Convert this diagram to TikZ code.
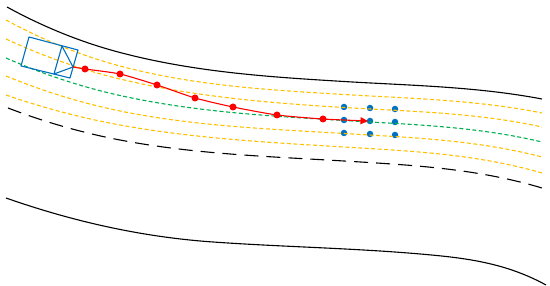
\documentclass[tikz,border=0pt]{standalone}
\usetikzlibrary{arrows.meta}

\definecolor{laneyellow}{RGB}{255,192,0}
\definecolor{lanegreen}{RGB}{0,176,80}
\definecolor{carblue}{RGB}{0,112,192}
\definecolor{trajred}{RGB}{255,0,0}

\begin{document}
\begin{tikzpicture}[x=1pt,y=1pt,yscale=-1,xscale=1,
  roadedge/.style={color=black, line width=1.1pt},
  roadmid/.style={color=black, line width=1.1pt, dash pattern=on 14pt off 8pt},
  laneline/.style={color=laneyellow, line width=1.1pt, dash pattern=on 4pt off 2.5pt},
  centreline/.style={color=lanegreen, line width=1.1pt, dash pattern=on 4pt off 2.5pt},
  carbox/.style={color=carblue, line width=1.1pt, line join=round},
  waypoint/.style={circle, fill=trajred, inner sep=0pt, minimum size=7pt},
  goalpoint/.style={circle, fill=carblue, inner sep=0pt, minimum size=6.5pt},
  trajline/.style={color=trajred, line width=1.1pt}]
%set diagram left start at 0, and has height of 286
\path (0,0) rectangle (550,286);

%Curve Lines [id:road upper edge]
\draw [roadedge] (7,7) .. controls (44,27.3) and (82,42.5) .. (120,52.5) .. controls (194.67,72.2) and (269.33,77) .. (344,81.5) .. controls (410,85.5) and (476,86.5) .. (542,99) ;
%Curve Lines [id:road lower edge]
\draw [roadedge] (6,198) .. controls (75,222.2) and (144,237.2) .. (213,242) .. controls (284,247) and (355,248.1) .. (426,254.5) .. controls (466,258.1) and (506,263) .. (546,285) ;
%Curve Lines [id:road middle]
\draw [roadmid] (8,108) .. controls (45.33,122.3) and (82.67,132.9) .. (120,140) .. controls (194.67,154.2) and (269.33,156.5) .. (344,161) .. controls (410,165) and (476,168.2) .. (542,188) ;

%Shape: Circle [id:goal grid]
\node [goalpoint] (g11) at (344,107) {};
\node [goalpoint] (g12) at (370,108) {};
\node [goalpoint] (g13) at (395,109) {};
\node [goalpoint] (g21) at (344,120) {};
\node [goalpoint] (g22) at (370,121) {};
\node [goalpoint] (g23) at (395,122) {};
\node [goalpoint] (g31) at (344,133) {};
\node [goalpoint] (g32) at (370,134) {};
\node [goalpoint] (g33) at (395,135) {};

%Curve Lines [id:lane 1]
\draw [laneline] (6,20) .. controls (44,40.6) and (82,55.9) .. (120,66) .. controls (194.67,85.9) and (269.33,90) .. (344,94.5) .. controls (410,98.5) and (476,99.8) .. (542,113) ;
%Curve Lines [id:lane 2]
\draw [laneline] (6,39) .. controls (44,56.6) and (82,69.9) .. (120,79) .. controls (194.67,96.8) and (269.33,103) .. (344,107.5) .. controls (410,111.5) and (476,112.5) .. (542,127) ;
%Curve Lines [id:lane centre]
\draw [centreline] (6,58) .. controls (44,74.6) and (82,87.1) .. (120,95.5) .. controls (194.67,112) and (269.33,116) .. (344,120.5) .. controls (410,124.5) and (476,126.2) .. (542,142) ;
%Curve Lines [id:lane 3]
\draw [laneline] (6,76) .. controls (44,91.6) and (82,103.2) .. (120,111) .. controls (194.67,126.2) and (269.33,129) .. (344,133.5) .. controls (410,137.5) and (476,139.8) .. (542,157) ;
%Curve Lines [id:lane 4]
\draw [laneline] (6,95) .. controls (44,108.1) and (82,118.1) .. (120,125) .. controls (194.67,138.5) and (269.33,142.5) .. (344,147) .. controls (410,151) and (476,153.9) .. (542,173) ;

%Shape: Rectangle [id:car body]
\coordinate (carrl) at (29,37);
\coordinate (carfl) at (78,50);
\coordinate (carfr) at (70,78);
\coordinate (carrr) at (21,66);
\coordinate (carml) at (62,46);
\coordinate (carmr) at (54,74);
\coordinate (carnose) at (73,67);
\draw [carbox] (carrl) -- (carfl) -- (carfr) -- (carrr) -- cycle ;
%Shape: Triangle [id:car heading]
\draw [carbox] (carml) -- (carnose) -- (carmr) -- cycle ;

%Shape: Circle [id:way points]
\node [waypoint] (w1) at (85,69) {};
\node [waypoint] (w2) at (120,74) {};
\node [waypoint] (w3) at (157,85) {};
\node [waypoint] (w4) at (195,98) {};
\node [waypoint] (w5) at (233,107) {};
\node [waypoint] (w6) at (277,115) {};
\node [waypoint] (w7) at (323,119) {};
\coordinate (wend) at (368,121);

%Curve Lines [id:trajectory]
\draw [trajline, -{Triangle[length=7.5pt,width=7pt]}] plot [smooth, tension=0.4] coordinates {(carnose) (w1.center) (w2.center) (w3.center) (w4.center) (w5.center) (w6.center) (w7.center) (wend)} ;

\end{tikzpicture}
\end{document}
